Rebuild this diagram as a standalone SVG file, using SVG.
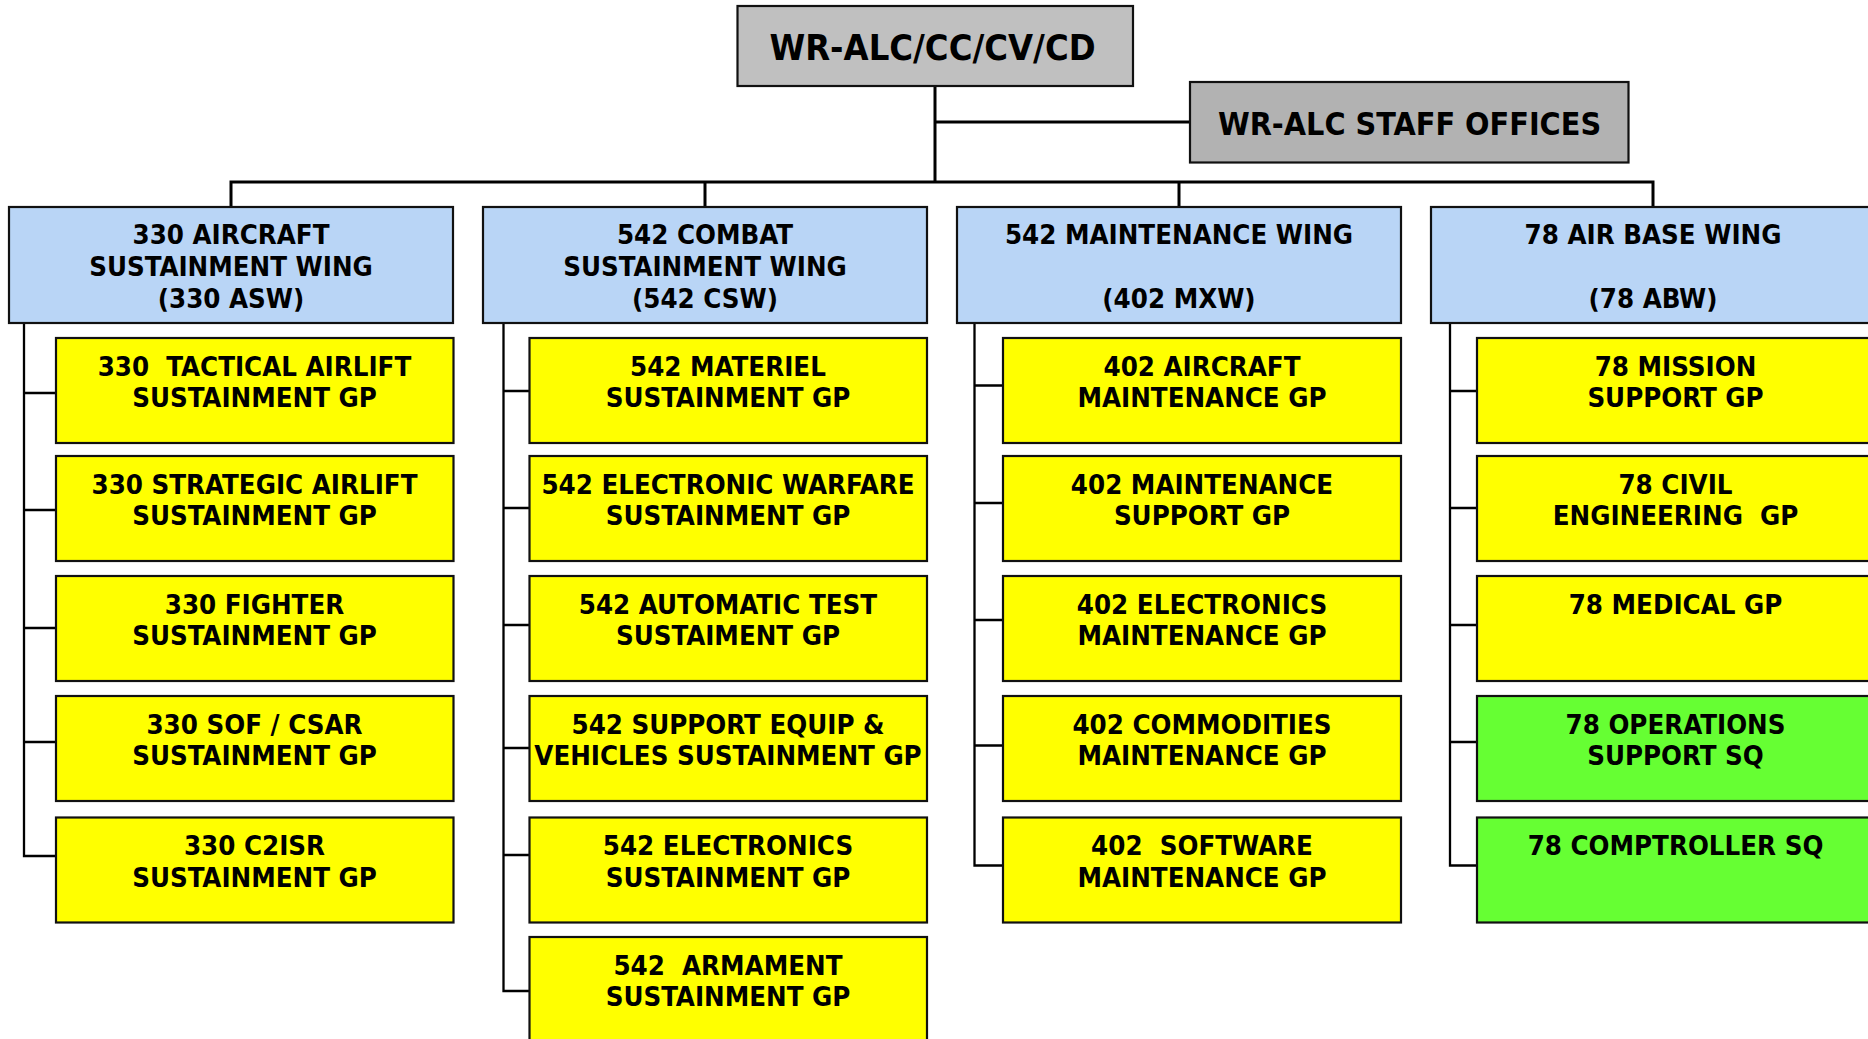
<svg xmlns="http://www.w3.org/2000/svg" width="1868" height="1039" viewBox="0 0 1868 1039">
<style>
text{font-family:"DejaVu Sans Condensed","DejaVu Sans",sans-serif;font-stretch:condensed;font-weight:bold;fill:#000;text-anchor:middle;white-space:pre}
.box{stroke:#111;stroke-width:2.2}
.top{fill:#C0C0C0}
.staff{fill:#B2B2B2}
.wing{fill:#B9D5F6}
.gp{fill:#FFFF00}
.sq{fill:#66FF33}
.t36{font-size:36px}
.t32{font-size:32px}
.t27{font-size:27.4px}
.main{stroke:#000;stroke-width:3;fill:none}
.br{stroke:#000;stroke-width:2.3;fill:none}
</style>
<rect width="1868" height="1039" fill="#fff"/>
<g id="connectors">
<path class="main" d="M935 86V182M935 122H1190M231 207V182H1653V207M705 182V207M1179 182V207"/>
<path class="br" d="M24 323V856H56M24 393H56M24 510H56M24 628H56M24 742H56"/>
<path class="br" d="M503.5 323V991H529.5M503.5 391H529.5M503.5 508H529.5M503.5 625H529.5M503.5 748H529.5M503.5 855H529.5"/>
<path class="br" d="M974.5 323V865.5H1003M974.5 385.5H1003M974.5 503H1003M974.5 620H1003M974.5 745.5H1003"/>
<path class="br" d="M1450 323V865.5H1477M1450 391H1477M1450 508H1477M1450 625H1477M1450 742H1477"/>
</g>
<g id="n-top"><rect class="box top" x="737.5" y="6" width="395.5" height="80"/><text class="t36" x="932.5" y="59.5">WR-ALC/CC/CV/CD</text></g>
<g id="n-staff"><rect class="box staff" x="1190" y="82" width="438.5" height="80.5"/><text class="t32" x="1409.5" y="135">WR-ALC STAFF OFFICES</text></g>

<g id="w-330"><rect class="box wing" x="9" y="207" width="444" height="116"/><text class="t27" x="231" y="244">330 AIRCRAFT</text><text class="t27" x="231" y="276">SUSTAINMENT WING</text><text class="t27" x="231" y="308">(330 ASW)</text></g>
<g id="w-542"><rect class="box wing" x="483" y="207" width="444" height="116"/><text class="t27" x="705" y="244">542 COMBAT</text><text class="t27" x="705" y="276">SUSTAINMENT WING</text><text class="t27" x="705" y="308">(542 CSW)</text></g>
<g id="w-402"><rect class="box wing" x="957" y="207" width="444" height="116"/><text class="t27" x="1179" y="244">542 MAINTENANCE WING</text><text class="t27" x="1179" y="308">(402 MXW)</text></g>
<g id="w-78"><rect class="box wing" x="1431" y="207" width="444" height="116"/><text class="t27" x="1653" y="244">78 AIR BASE WING</text><text class="t27" x="1653" y="308">(78 ABW)</text></g>

<g id="c1-1"><rect class="box gp" x="56" y="338" width="397.5" height="105"/><text class="t27" x="254.5" y="375.5">330  TACTICAL AIRLIFT</text><text class="t27" x="254.5" y="407">SUSTAINMENT GP</text></g>
<g id="c1-2"><rect class="box gp" x="56" y="456" width="397.5" height="105"/><text class="t27" x="254.5" y="493.5">330 STRATEGIC AIRLIFT</text><text class="t27" x="254.5" y="525">SUSTAINMENT GP</text></g>
<g id="c1-3"><rect class="box gp" x="56" y="576" width="397.5" height="105"/><text class="t27" x="254.5" y="613.5">330 FIGHTER</text><text class="t27" x="254.5" y="645">SUSTAINMENT GP</text></g>
<g id="c1-4"><rect class="box gp" x="56" y="696" width="397.5" height="105"/><text class="t27" x="254.5" y="733.5">330 SOF / CSAR</text><text class="t27" x="254.5" y="765">SUSTAINMENT GP</text></g>
<g id="c1-5"><rect class="box gp" x="56" y="817.5" width="397.5" height="105"/><text class="t27" x="254.5" y="855">330 C2ISR</text><text class="t27" x="254.5" y="886.5">SUSTAINMENT GP</text></g>

<g id="c2-1"><rect class="box gp" x="529.5" y="338" width="397.5" height="105"/><text class="t27" x="728" y="375.5">542 MATERIEL</text><text class="t27" x="728" y="407">SUSTAINMENT GP</text></g>
<g id="c2-2"><rect class="box gp" x="529.5" y="456" width="397.5" height="105"/><text class="t27" x="728" y="493.5">542 ELECTRONIC WARFARE</text><text class="t27" x="728" y="525">SUSTAINMENT GP</text></g>
<g id="c2-3"><rect class="box gp" x="529.5" y="576" width="397.5" height="105"/><text class="t27" x="728" y="613.5">542 AUTOMATIC TEST</text><text class="t27" x="728" y="645">SUSTAIMENT GP</text></g>
<g id="c2-4"><rect class="box gp" x="529.5" y="696" width="397.5" height="105"/><text class="t27" x="728" y="733.5">542 SUPPORT EQUIP &amp;</text><text class="t27" x="728" y="765">VEHICLES SUSTAINMENT GP</text></g>
<g id="c2-5"><rect class="box gp" x="529.5" y="817.5" width="397.5" height="105"/><text class="t27" x="728" y="855">542 ELECTRONICS</text><text class="t27" x="728" y="886.5">SUSTAINMENT GP</text></g>
<g id="c2-6"><rect class="box gp" x="529.5" y="937" width="397.5" height="110"/><text class="t27" x="728" y="974.5">542  ARMAMENT</text><text class="t27" x="728" y="1006">SUSTAINMENT GP</text></g>

<g id="c3-1"><rect class="box gp" x="1003" y="338" width="398" height="105"/><text class="t27" x="1202" y="375.5">402 AIRCRAFT</text><text class="t27" x="1202" y="407">MAINTENANCE GP</text></g>
<g id="c3-2"><rect class="box gp" x="1003" y="456" width="398" height="105"/><text class="t27" x="1202" y="493.5">402 MAINTENANCE</text><text class="t27" x="1202" y="525">SUPPORT GP</text></g>
<g id="c3-3"><rect class="box gp" x="1003" y="576" width="398" height="105"/><text class="t27" x="1202" y="613.5">402 ELECTRONICS</text><text class="t27" x="1202" y="645">MAINTENANCE GP</text></g>
<g id="c3-4"><rect class="box gp" x="1003" y="696" width="398" height="105"/><text class="t27" x="1202" y="733.5">402 COMMODITIES</text><text class="t27" x="1202" y="765">MAINTENANCE GP</text></g>
<g id="c3-5"><rect class="box gp" x="1003" y="817.5" width="398" height="105"/><text class="t27" x="1202" y="855">402  SOFTWARE</text><text class="t27" x="1202" y="886.5">MAINTENANCE GP</text></g>

<g id="c4-1"><rect class="box gp" x="1477" y="338" width="398" height="105"/><text class="t27" x="1675.5" y="375.5">78 MISSION</text><text class="t27" x="1675.5" y="407">SUPPORT GP</text></g>
<g id="c4-2"><rect class="box gp" x="1477" y="456" width="398" height="105"/><text class="t27" x="1675.5" y="493.5">78 CIVIL</text><text class="t27" x="1675.5" y="525">ENGINEERING  GP</text></g>
<g id="c4-3"><rect class="box gp" x="1477" y="576" width="398" height="105"/><text class="t27" x="1675.5" y="613.5">78 MEDICAL GP</text></g>
<g id="c4-4"><rect class="box sq" x="1477" y="696" width="398" height="105"/><text class="t27" x="1675.5" y="733.5">78 OPERATIONS</text><text class="t27" x="1675.5" y="765">SUPPORT SQ</text></g>
<g id="c4-5"><rect class="box sq" x="1477" y="817.5" width="398" height="105"/><text class="t27" x="1675.5" y="855">78 COMPTROLLER SQ</text></g>
</svg>
